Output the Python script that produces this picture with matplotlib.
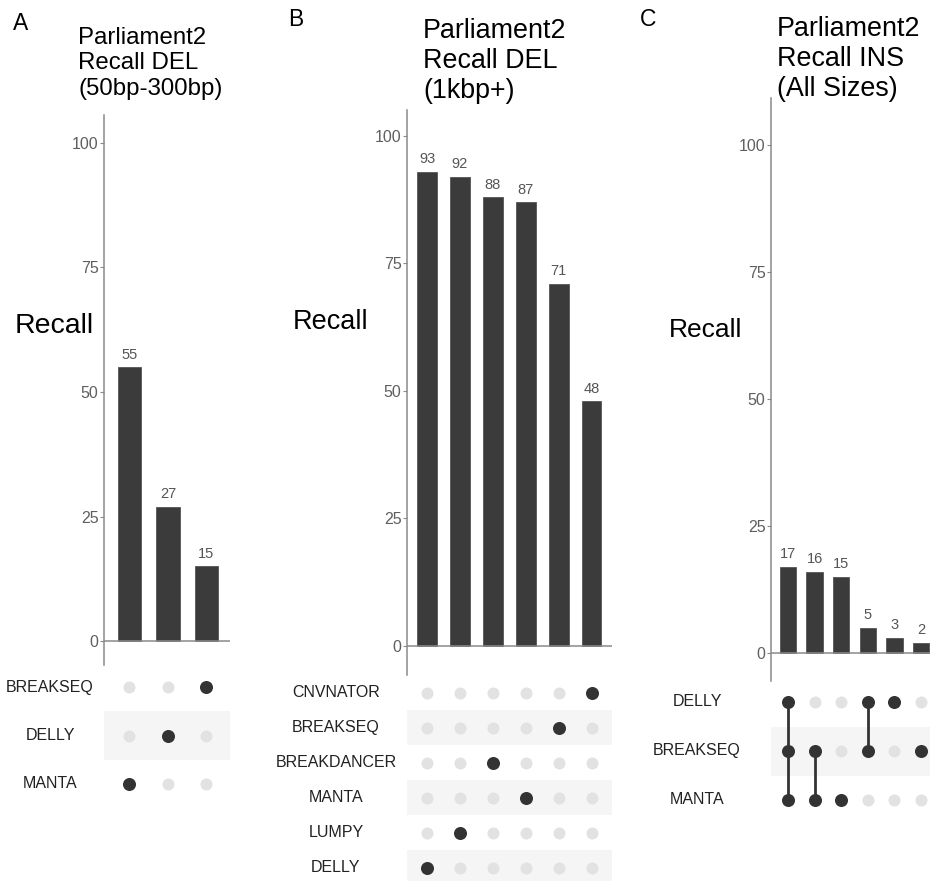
# Parliament2 Recall – drei UpSet-artige Panels (A, B, C)

import matplotlib.pyplot as plt
from matplotlib.transforms import blended_transform_factory

plt.rcParams['font.family'] = ['Liberation Sans', 'DejaVu Sans']

# Panel A: DEL 50bp-300bp
a_sets = ['BREAKSEQ', 'DELLY', 'MANTA']
a_cols = [['MANTA'], ['DELLY'], ['BREAKSEQ']]
a_recall = [55, 27, 15]

# Panel B: DEL 1kbp+
b_sets = ['CNVNATOR', 'BREAKSEQ', 'BREAKDANCER', 'MANTA', 'LUMPY', 'DELLY']
b_cols = [['DELLY'], ['LUMPY'], ['BREAKDANCER'], ['MANTA'], ['BREAKSEQ'], ['CNVNATOR']]
b_recall = [93, 92, 88, 87, 71, 48]

# Panel C: INS alle Groessen
c_sets = ['DELLY', 'BREAKSEQ', 'MANTA']
c_cols = [['DELLY', 'BREAKSEQ', 'MANTA'], ['BREAKSEQ', 'MANTA'], ['MANTA'],
          ['DELLY', 'BREAKSEQ'], ['DELLY'], ['BREAKSEQ']]
c_recall = [17, 16, 15, 5, 3, 2]

W, H = 930, 881
fig = plt.figure(figsize=(W / 100, H / 100), dpi=100)

BAR = '#3b3b3b'
DOT_ON = '#333333'
DOT_OFF = '#e2e2e2'
BAND = '#f5f5f5'
AXIS = '#8a8a8a'


def rect(x0, y_top, x1, y_bot):
    # Pixelkoordinaten (von oben) -> Figurenanteil
    return [x0 / W, 1 - y_bot / H, (x1 - x0) / W, (y_bot - y_top) / H]


def fx(x):
    return x / W


def fy(y):
    return 1 - y / H


def bar_panel(pos, values, ylim, xlim, width):
    ax = fig.add_axes(pos)
    x = list(range(len(values)))
    ax.bar(x, values, width=width, color=BAR, edgecolor='#555555', linewidth=0.6, zorder=3)
    for xi, v in zip(x, values):
        ax.annotate(str(v), (xi, v), xytext=(0, 4), textcoords='offset points',
                    ha='center', va='bottom', fontsize=10.5, color='#555555')
    ax.axhline(0, color=AXIS, linewidth=1.1, zorder=4)
    ax.set_ylim(*ylim)
    ax.set_xlim(*xlim)
    ax.set_yticks([0, 25, 50, 75, 100])
    ax.tick_params(axis='y', length=3, width=0.8, color=AXIS, labelcolor='#5f5f5f',
                   labelsize=11.5, pad=1)
    ax.set_xticks([])
    for s in ['top', 'right', 'bottom']:
        ax.spines[s].set_visible(False)
    ax.spines['left'].set_color(AXIS)
    ax.spines['left'].set_linewidth(1.1)
    return ax


def matrix(pos, sets, cols, xlim, dot_size, label_x, size):
    ax = fig.add_axes(pos)
    n = len(sets)
    # jede zweite Zeile hellgrau hinterlegen
    for r in range(n):
        if r % 2 == 1:
            ax.axhspan(r - 0.5, r + 0.5, color=BAND, zorder=0, linewidth=0)
    for c, members in enumerate(cols):
        rows = [sets.index(m) for m in members]
        off = [r for r in range(n) if r not in rows]
        ax.scatter([c] * len(off), off, s=dot_size * 0.85, color=DOT_OFF, zorder=2, linewidths=0)
        if len(rows) > 1:
            ax.plot([c, c], [min(rows), max(rows)], color=DOT_ON, linewidth=2, zorder=2)
        ax.scatter([c] * len(rows), rows, s=dot_size, color=DOT_ON, zorder=3, linewidths=0)
    ax.set_xlim(*xlim)
    ax.set_ylim(n - 0.5, -0.5)
    ax.axis('off')
    tr = blended_transform_factory(fig.transFigure, ax.transData)
    for r, name in enumerate(sets):
        ax.text(fx(label_x), r, name, transform=tr, ha='center', va='center',
                fontsize=size, color='#222222')
    return ax


# --- Panel A ---
bar_panel(rect(104, 115, 230, 665), a_recall, (-4.8, 105.6), (-0.66, 2.61), 0.6)
matrix(rect(104, 663, 230, 808), a_sets, a_cols, (-0.66, 2.61), 88, 50, 11.5)
fig.text(fx(13), fy(24), 'A', fontsize=16.5, va='center', ha='left')
fig.text(fx(78), fy(27), 'Parliament2\nRecall DEL\n(50bp-300bp)', fontsize=17.3,
         va='top', ha='left', linespacing=1.2)
fig.text(fx(54), fy(326), 'Recall', fontsize=20.5, va='center', ha='center')

# --- Panel B ---
bar_panel(rect(407, 110, 612, 675), b_recall, (-5.7, 105.1), (-0.61, 5.62), 0.6)
matrix(rect(407, 675.5, 612, 885.5), b_sets, b_cols, (-0.61, 5.62), 88, 336, 11.5)
fig.text(fx(288), fy(19), 'B', fontsize=16.5, va='center', ha='left')
fig.text(fx(423), fy(18), 'Parliament2\nRecall DEL\n(1kbp+)', fontsize=19.4,
         va='top', ha='left', linespacing=1.2)
fig.text(fx(331), fy(322), 'Recall', fontsize=19.5, va='center', ha='center')

# --- Panel C ---
bar_panel(rect(771, 98, 937.5, 681), c_recall, (-5.5, 109.3), (-0.64, 5.62), 0.62)
matrix(rect(771, 677.5, 937.5, 824.5), c_sets, c_cols, (-0.64, 5.62), 88, 697, 11.5)
fig.text(fx(640), fy(19), 'C', fontsize=16.5, va='center', ha='left')
fig.text(fx(777), fy(16), 'Parliament2\nRecall INS\n(All Sizes)', fontsize=19.4,
         va='top', ha='left', linespacing=1.2)
fig.text(fx(706), fy(330), 'Recall', fontsize=19, va='center', ha='center')

fig.savefig('out.png', dpi=100)
